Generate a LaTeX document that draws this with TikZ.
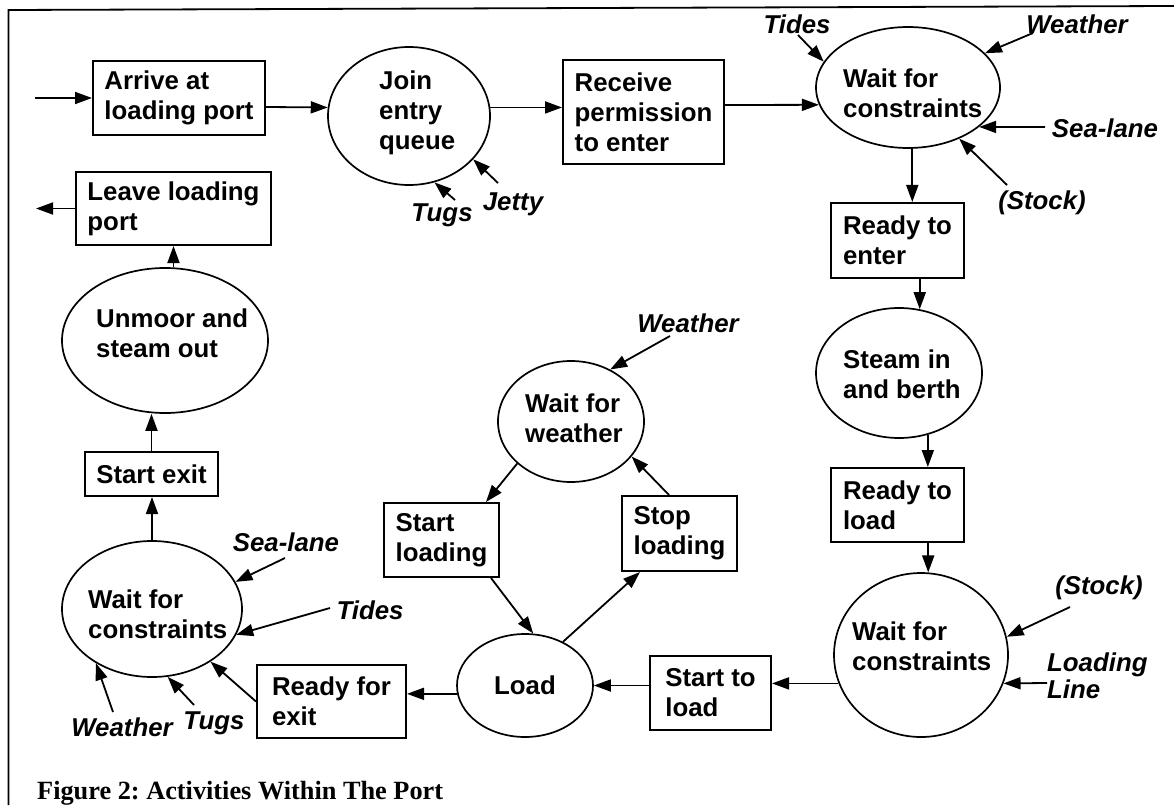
\documentclass[tikz,border=0pt]{standalone}
\usepackage{fontspec}
\setmainfont{Liberation Sans}
\newfontfamily\capfont{Liberation Serif}
\usetikzlibrary{arrows.meta,shapes.geometric}
\frenchspacing
\begin{document}
\begin{tikzpicture}[x=1pt,y=-1pt,
  font=\bfseries\fontsize{25.8}{30}\selectfont,
  box/.style={draw,line width=2pt,rectangle,inner sep=0pt,align=left},
  ell/.style={draw,line width=1.7pt,ellipse,inner sep=0pt},
  txt/.style={align=left,inner sep=0pt,anchor=west},
  lbl/.style={font=\bfseries\itshape\fontsize{25.8}{27}\selectfont,inner sep=0pt},
  arr/.style={line width=1.8pt,-{Triangle[length=17pt,width=12pt]}},
]
\useasboundingbox (0,0) rectangle (1174,805);
% frame
\draw[line width=1.8pt] (8.5,805) -- (8.5,10) -- (1174,6);

% boxes
\node[box,minimum width=172pt,minimum height=74pt] (arrive) at (179,98) {Arrive at\\loading port};
\node[box,minimum width=161pt,minimum height=104pt] (receive) at (643.5,112) {Receive\\permission\\to enter};
\node[box,minimum width=133pt,minimum height=75pt] (renter) at (897.5,240.5) {Ready to\\enter};
\node[box,minimum width=133pt,minimum height=74pt] (rload) at (897.5,505) {Ready to\\load};
\node[box,minimum width=121pt,minimum height=74pt] (sload) at (710.5,693) {Start to\\load};
\node[box,minimum width=115pt,minimum height=75pt] (stop) at (679.5,533.5) {Stop\\loading};
\node[box,minimum width=115pt,minimum height=74pt] (sloading) at (441.5,540) {Start\\loading};
\node[box,minimum width=149pt,minimum height=73pt] (rexit) at (331.5,701.5) {Ready for\\exit};
\node[box,minimum width=133pt,minimum height=44pt] (sexit) at (151.5,474) {Start exit};
\node[box,minimum width=195pt,minimum height=73pt] (leave) at (173.5,208.5) {Leave loading\\port};

% ellipses
\node[ell,minimum width=162pt,minimum height=138pt] (J) at (409,116) {};
\node[ell,minimum width=184pt,minimum height=121pt] (W1) at (908,87.5) {};
\node[ell,minimum width=166pt,minimum height=130pt] (S) at (899,373) {};
\node[ell,minimum width=174pt,minimum height=164pt] (W2) at (921,655) {};
\node[ell,minimum width=136pt,minimum height=103pt] (L) at (525,685.5) {Load};
\node[ell,minimum width=146pt,minimum height=121pt] (WW) at (571,421.5) {};
\node[ell,minimum width=180pt,minimum height=136pt] (W3) at (152,609) {};
\node[ell,minimum width=206pt,minimum height=145pt] (U) at (165,340.5) {};

% ellipse texts
\node[txt] (Jt) at (379,113) {Join\\entry\\queue};
\node[txt] (W1t) at (843,93) {Wait for\\constraints};
\node[txt] (St) at (843,374) {Steam in\\and berth};
\node[txt] (W2t) at (852,646) {Wait for\\constraints};
\node[txt] (W3t) at (88,614) {Wait for\\constraints};
\node[txt] (WWt) at (525,418) {Wait for\\weather};
\node[txt] (Ut) at (96,333) {Unmoor and\\steam out};

% labels
\node[lbl] (tides1) at (797,24) {Tides};
\node[lbl] (weather1) at (1077,24) {Weather};
\node[lbl] (sea1) at (1105,128) {Sea-lane};
\node[lbl] (stock1) at (1042,203) {(Stock)};
\node[lbl] (tugs1) at (442,215) {Tugs};
\node[lbl] (jetty) at (513,204) {Jetty};
\node[lbl] (weather2) at (688,323) {Weather};
\node[lbl] (stock2) at (1099,588) {(Stock)};
\node[lbl,align=left,anchor=west] (lline) at (1047,676) {Loading\\Line};
\node[lbl] (sea3) at (286,542) {Sea-lane};
\node[lbl] (tides3) at (370,610) {Tides};
\node[lbl] (tugs3) at (214,723) {Tugs};
\node[lbl] (weather3) at (122,727) {Weather};

% caption
\node[anchor=base west,inner sep=0pt,font=\capfont\bfseries\fontsize{26.3}{30}\selectfont] (cap) at (37,799) {Figure 2: Activities Within The Port};

% free ends
\coordinate (in) at (35,98);
\coordinate (out) at (36,208.5);
\coordinate (t1s) at (798,35);
\coordinate (w1s) at (1033,33);
\coordinate (s1s) at (1045,127);
\coordinate (k1s) at (1007,185);
\coordinate (g1s) at (455,200);
\coordinate (js) at (498,183);
\coordinate (w2s) at (670,336);
\coordinate (k2s) at (1070,607);
\coordinate (ls) at (1047,683);
\coordinate (s3s) at (285,558);
\coordinate (t3s) at (330,608);
\coordinate (g3s) at (194,705);
\coordinate (w3s) at (113,712);

% main flow
\draw[arr] (in) -- (arrive.west);
\draw[arr] ([yshift=-9pt]arrive.east) -- (J.174);
\draw[arr] (J.6) -- (J.6 -| receive.west);
\draw[arr] ([yshift=7pt]receive.east) -- (W1.191);
\draw[arr] (W1.274) -- (W1.274 |- renter.north);
\draw[arr] (S.72 |- renter.south) -- (S.72);
\draw[arr] (S.295) -- (S.295 |- rload.north);
\draw[arr] (W2.85 |- rload.south) -- (W2.85);
\draw[arr] (W2.199) -- (W2.199 -| sload.east);
\draw[arr] (sload.west |- L.east) -- (L.east);
\draw[arr] (L.187) -- (L.187 -| rexit.east);
\draw[arr] ([xshift=-9pt]sloading.south east) -- (L.81);
\draw[arr] (L.49) -- ([xshift=19pt]stop.south west);
\draw[arr] ([xshift=48pt]stop.north west) -- (WW.330);
\draw[arr] (WW.218) -- ([xshift=-14pt]sloading.north east);
\draw[arr] (rexit.west) -- (W3.318);
\draw[arr] (W3.north) -- (W3.north |- sexit.south);
\draw[arr] (sexit.north) -- (sexit.north |- U.south);
\draw[arr] (leave.south |- U.north) -- (leave.south);
\draw[arr] (leave.west) -- (out);

% constraint arrows
\draw[arr] (t1s) -- (W1.163);
\draw[arr] (w1s) -- (W1.24);
\draw[arr] (s1s) -- (W1.331);
\draw[arr] (k1s) -- (W1.315);
\draw[arr] (g1s) -- (J.291);
\draw[arr] (js) -- (J.326);
\draw[arr] (w2s) -- (WW.53);
\draw[arr] (k2s) -- (W2.12);
\draw[arr] (ls) -- (W2.341);
\draw[arr] (s3s) -- (W3.18);
\draw[arr] (t3s) -- (W3.343);
\draw[arr] (g3s) -- (W3.283);
\draw[arr] (w3s) -- (W3.224);
\end{tikzpicture}
\end{document}
